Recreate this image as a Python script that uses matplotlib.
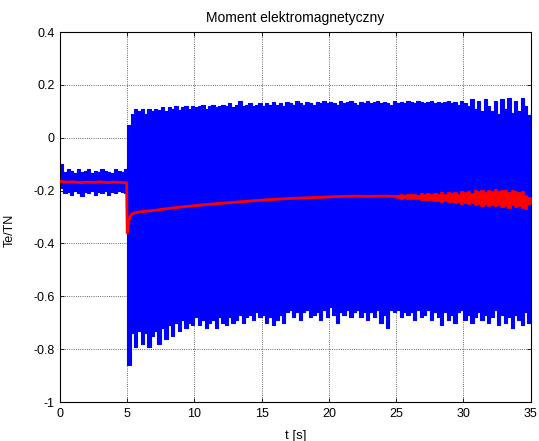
import numpy as np
import matplotlib
matplotlib.use("Agg")
import matplotlib.pyplot as plt

plt.rcParams['font.family'] = ['Liberation Sans', 'DejaVu Sans']
plt.rcParams['axes.unicode_minus'] = False

# ---- data ----
# blue signal envelope before the load step (t = 0 .. 5 s, every 0.25 s)
t_pre = np.arange(0, 5.001, 0.25)
blue_pre_hi = [-0.10, -0.13, -0.12, -0.125, -0.135, -0.12, -0.13, -0.125, -0.12, -0.135, -0.125,
               -0.13, -0.12, -0.125, -0.13, -0.135, -0.12, -0.125, -0.13, -0.12, -0.11]
blue_pre_lo = [-0.19, -0.21, -0.205, -0.215, -0.20, -0.21, -0.22, -0.205, -0.21, -0.20, -0.215,
               -0.205, -0.21, -0.20, -0.215, -0.205, -0.21, -0.20, -0.205, -0.21, -0.215]

# blue signal envelope after the load step (t = 5 .. 35 s, every 0.25 s)
t_post = np.arange(5, 35.001, 0.25)
blue_post_hi = [0.05, 0.09, 0.11, 0.10,
                0.11, 0.09, 0.11, 0.10,
                0.11, 0.105, 0.115, 0.10,
                0.115, 0.11, 0.12, 0.105,
                0.115, 0.12, 0.11, 0.12,
                0.115, 0.12, 0.125, 0.11,
                0.12, 0.125, 0.115, 0.12,
                0.125, 0.12, 0.13, 0.115,
                0.125, 0.14, 0.12, 0.125,
                0.13, 0.12, 0.125, 0.13,
                0.12, 0.13, 0.125, 0.135,
                0.125, 0.13, 0.12, 0.135,
                0.13, 0.125, 0.14, 0.13,
                0.125, 0.135, 0.13, 0.125,
                0.135, 0.13, 0.14, 0.13,
                0.135, 0.13, 0.125, 0.14,
                0.13, 0.135, 0.14, 0.13,
                0.125, 0.135, 0.13, 0.14,
                0.13, 0.135, 0.14, 0.13,
                0.135, 0.13, 0.125, 0.14,
                0.13, 0.135, 0.13, 0.14,
                0.135, 0.13, 0.14, 0.135,
                0.13, 0.135, 0.14, 0.13,
                0.135, 0.13, 0.135, 0.14,
                0.13, 0.135, 0.125, 0.14,
                0.13, 0.12, 0.145, 0.11,
                0.14, 0.10, 0.145, 0.12,
                0.10, 0.14, 0.09, 0.145,
                0.11, 0.15, 0.095, 0.14,
                0.10, 0.15, 0.12, 0.085,
                0.10]
blue_post_lo = [-0.86, -0.74, -0.79, -0.73,
                -0.78, -0.74, -0.79, -0.75,
                -0.73, -0.78, -0.72, -0.76,
                -0.71, -0.75, -0.70, -0.73,
                -0.69, -0.72, -0.70, -0.71,
                -0.68, -0.71, -0.69, -0.72,
                -0.70, -0.69, -0.72, -0.68,
                -0.70, -0.71, -0.68, -0.70,
                -0.69, -0.67, -0.70, -0.68,
                -0.67, -0.69, -0.66, -0.68,
                -0.67, -0.70, -0.68, -0.71,
                -0.69, -0.67, -0.70, -0.66,
                -0.65, -0.68, -0.66, -0.69,
                -0.66, -0.65, -0.68, -0.67,
                -0.66, -0.69, -0.65, -0.68,
                -0.64, -0.67, -0.70, -0.66,
                -0.67, -0.65, -0.68, -0.66,
                -0.65, -0.68, -0.66, -0.69,
                -0.66, -0.68, -0.65, -0.70,
                -0.67, -0.72, -0.65, -0.66,
                -0.65, -0.68, -0.66, -0.67,
                -0.66, -0.69, -0.65, -0.68,
                -0.67, -0.65, -0.69, -0.66,
                -0.68, -0.71, -0.66, -0.69,
                -0.67, -0.70, -0.66, -0.65,
                -0.69, -0.67, -0.70, -0.68,
                -0.66, -0.69, -0.67, -0.70,
                -0.68, -0.65, -0.71, -0.67,
                -0.70, -0.68, -0.72, -0.67,
                -0.69, -0.71, -0.66, -0.70,
                -0.68]

# red (mean) torque
t_red = [0, 0.5, 1, 1.5, 2, 2.5, 3, 3.5, 4, 4.5, 4.95, 5.0, 5.05, 5.15, 5.3, 5.5,
         6, 7, 8, 9, 10, 11, 12, 13, 14, 15, 16, 17, 18, 19, 20, 21, 22, 23, 24, 25,
         26, 27, 28, 29, 30, 31, 32, 33, 34, 34.5, 35]
red_val = [-0.165, -0.168, -0.167, -0.17, -0.168, -0.169, -0.167, -0.17, -0.168, -0.169, -0.17,
           -0.36, -0.34, -0.31, -0.29, -0.285,
           -0.28, -0.275, -0.268, -0.262, -0.257, -0.252, -0.248, -0.244, -0.24, -0.236,
           -0.233, -0.23, -0.228, -0.226, -0.224, -0.222, -0.221, -0.222, -0.221, -0.222,
           -0.223, -0.224, -0.226, -0.227, -0.228, -0.228, -0.23, -0.23, -0.235, -0.25, -0.24]

# red oscillation band at the end (t = 25 .. 35 s, every 0.25 s)
t_red_band = np.arange(25, 35.001, 0.25)
red_band_hi = [-0.215, -0.214, -0.216, -0.213,
               -0.214, -0.212, -0.215, -0.211,
               -0.213, -0.21, -0.214, -0.208,
               -0.212, -0.207, -0.213, -0.205,
               -0.21, -0.204, -0.212, -0.202,
               -0.207, -0.20, -0.21, -0.198,
               -0.203, -0.197, -0.205, -0.196,
               -0.20, -0.195, -0.203, -0.197,
               -0.198, -0.205, -0.196, -0.20,
               -0.205, -0.20, -0.215, -0.225,
               -0.225]
red_band_lo = [-0.228, -0.23, -0.229, -0.231,
               -0.231, -0.233, -0.232, -0.235,
               -0.234, -0.237, -0.236, -0.24,
               -0.238, -0.242, -0.24, -0.245,
               -0.243, -0.247, -0.244, -0.25,
               -0.248, -0.252, -0.246, -0.255,
               -0.25, -0.257, -0.252, -0.258,
               -0.255, -0.26, -0.254, -0.262,
               -0.258, -0.265, -0.255, -0.262,
               -0.26, -0.265, -0.27, -0.25,
               -0.245]

x_ticks = [0, 5, 10, 15, 20, 25, 30, 35]
y_ticks = [-1, -0.8, -0.6, -0.4, -0.2, 0, 0.2, 0.4]
y_tick_labels = ['-1', '-0.8', '-0.6', '-0.4', '-0.2', '0', '0.2', '0.4']

# ---- figure ----
fig = plt.figure(figsize=(5.39, 4.41), dpi=100)
ax = fig.add_axes([0.1113, 0.0884, 0.8733, 0.839])

blue = '#0000ff'
red = '#ff0000'
ax.fill_between(t_pre, blue_pre_lo, blue_pre_hi, step='post', color=blue, lw=0.8, ec=blue, zorder=2)
ax.fill_between(t_post, blue_post_lo, blue_post_hi, step='post', color=blue, lw=0.8, ec=blue, zorder=2)
ax.fill_between(t_red_band, red_band_lo, red_band_hi, step='post', color=red, lw=0.5, ec=red, zorder=3)
ax.plot(t_red, red_val, color=red, lw=2.0, zorder=4)

ax.set_xlim(0, 35)
ax.set_ylim(-1, 0.4)
ax.set_xticks(x_ticks)
ax.set_xticklabels([str(v) for v in x_ticks])
ax.set_yticks(y_ticks)
ax.set_yticklabels(y_tick_labels)
ax.set_axisbelow(True)
ax.grid(True, color='black', linestyle=':', linewidth=0.6, alpha=0.8)
ax.tick_params(direction='in', top=True, right=True, length=3, width=0.6,
               labelsize=9, pad=4)
for s in ax.spines.values():
    s.set_linewidth(0.8)

ax.set_title('Moment elektromagnetyczny', fontsize=10, pad=7)
ax.set_xlabel('t [s]', fontsize=9.5)
ax.set_ylabel('Te/TN', fontsize=9)
ax.xaxis.set_label_coords(0.5, -0.075)
ax.yaxis.set_label_coords(-0.095, 0.465)

fig.savefig('out.png', dpi=100)
